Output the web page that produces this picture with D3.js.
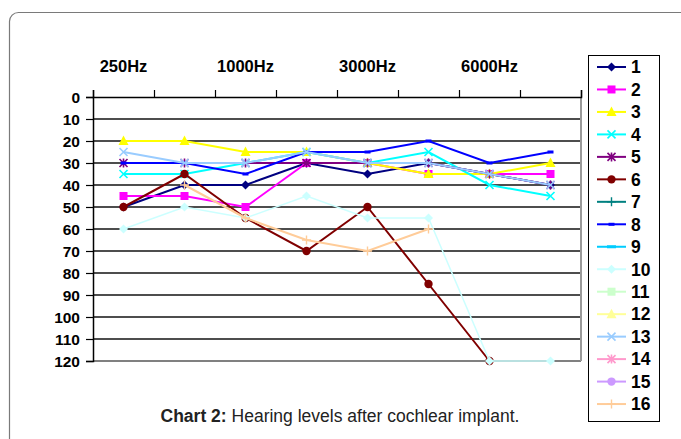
<!DOCTYPE html>
<html>
<head>
<meta charset="utf-8">
<script src="https://cdnjs.cloudflare.com/ajax/libs/d3/7.8.5/d3.min.js"></script>
<style>
  body { margin: 0; background: #fff; }
  svg { display: block; }
</style>
</head>
<body>
<div id="chart"></div>
<script>
// chart data
let freqs = ["250Hz", "500Hz", "1000Hz", "2000Hz", "3000Hz", "4000Hz", "6000Hz", "8000Hz"];
let shownFreqs = ["250Hz", "1000Hz", "3000Hz", "6000Hz"];
let yTicks = [0, 10, 20, 30, 40, 50, 60, 70, 80, 90, 100, 110, 120];
let names = ["1","2","3","4","5","6","7","8","9","10","11","12","13","14","15","16"];

let s1  = [50, 40, 40, 30, 35, 30, 35, 40];
let s2  = [45, 45, 50, 30, 30, 35, 35, 35];
let s3  = [20, 20, 25, 25, 30, 35, 35, 30];
let s4  = [35, 35, 30, 25, 30, 25, 40, 45];
let s5  = [30, 30, 30, 30, 30, 30, 35, 40];
let s6  = [50, 35, 55, 70, 50, 85, 120, null];
let s7  = [null, null, null, null, null, null, null, null];
let s8  = [30, 30, 35, 25, 25, 20, 30, 25];
let s9  = [null, null, null, null, null, null, null, null];
let s10 = [60, 50, 55, 45, 55, 55, 120, 120];
let s11 = [null, null, null, null, null, null, null, null];
let s12 = [null, null, null, null, null, null, null, null];
let s13 = [25, 30, 30, 25, 30, 30, 35, 40];
let s14 = [null, null, null, null, null, null, null, null];
let s15 = [null, null, null, null, null, null, null, null];
let s16 = [null, 40, 55, 65, 70, 60, null, null];

let allSeries = [s1, s2, s3, s4, s5, s6, s7, s8, s9, s10, s11, s12, s13, s14, s15, s16];

let colors = ["#000080","#FF00FF","#FFFF00","#00FFFF","#800080","#800000","#008080","#0000FF",
              "#00CCFF","#CCFFFF","#CCFFCC","#FFFF99","#99CCFF","#FF99CC","#CC99FF","#FFCC99"];
let markers = ["diamond","square","triangle","x","star","circle","plus","dash",
               "longdash","diamond","square","triangle","x","star","circle","plus"];

let width = 681, height = 439;
let plotLeft = 93, plotRight = 581, plotTop = 97, plotBottom = 361;

let svg = d3.select("#chart").append("svg")
  .attr("width", width)
  .attr("height", height);

// outer frame
svg.append("rect")
  .attr("x", 9.5).attr("y", 12.5)
  .attr("width", 700).attr("height", 460)
  .attr("rx", 9)
  .attr("fill", "none")
  .attr("stroke", "#7a7a7a")
  .attr("stroke-width", 1.2);

let x = d3.scaleBand().domain(freqs).range([plotLeft, plotRight]);
let xEdge = d3.scaleLinear().domain([0, freqs.length]).range([plotLeft, plotRight]);
let y = d3.scaleLinear().domain([0, 120]).range([plotTop, plotBottom]);
let cx = function(i) { return x(freqs[i]) + x.bandwidth() / 2; };

let axisFont = "'Liberation Sans', Arial, sans-serif";

// gridlines
svg.append("g")
  .selectAll("line")
  .data(yTicks.slice(1))
  .enter().append("line")
  .attr("x1", plotLeft).attr("x2", plotRight)
  .attr("y1", d => y(d)).attr("y2", d => y(d))
  .attr("stroke", d => d == 120 ? "#808080" : "#4d4d4d")
  .attr("stroke-width", 2);

// right edge of plot
svg.append("line")
  .attr("x1", plotRight).attr("x2", plotRight)
  .attr("y1", plotTop).attr("y2", plotBottom)
  .attr("stroke", "#9a9a9a").attr("stroke-width", 2);

// y axis (left)
let yAxis = svg.append("g")
  .attr("transform", `translate(${plotLeft},0)`)
  .call(d3.axisLeft(y).tickValues(yTicks).tickSize(7).tickPadding(6));
yAxis.select(".domain").attr("stroke", "#000").attr("stroke-width", 1.5);
yAxis.selectAll(".tick line").attr("stroke", "#000").attr("stroke-width", 1.2);
yAxis.selectAll("text")
  .attr("font-family", axisFont)
  .attr("font-weight", "bold")
  .attr("font-size", 15.5)
  .attr("fill", "#000")
  .attr("dy", "0.35em");

// x axis (top) - ticks at category boundaries
let xAxis = svg.append("g")
  .attr("transform", `translate(0,${plotTop})`)
  .call(d3.axisTop(xEdge).tickValues(d3.range(freqs.length + 1)).tickSize(7).tickFormat(""));
xAxis.select(".domain").attr("stroke", "#000").attr("stroke-width", 1.5);
xAxis.selectAll(".tick line").attr("stroke", "#000").attr("stroke-width", 1.2);

// x labels, every other category
svg.append("g")
  .selectAll("text")
  .data(shownFreqs)
  .enter().append("text")
  .attr("x", d => x(d) + x.bandwidth() / 2)
  .attr("y", 72)
  .attr("text-anchor", "middle")
  .attr("font-family", axisFont)
  .attr("font-weight", "bold")
  .attr("font-size", 16.5)
  .text(d => d);

function drawMarker(g, type, color, px, py) {
  if (type == "diamond") {
    g.append("path").attr("d", `M${px},${py-4.5}L${px+4.5},${py}L${px},${py+4.5}L${px-4.5},${py}Z`)
      .attr("fill", color);
  } else if (type == "square") {
    g.append("rect").attr("x", px-4).attr("y", py-4).attr("width", 8).attr("height", 8)
      .attr("fill", color);
  } else if (type == "triangle") {
    g.append("path").attr("d", `M${px},${py-5.5}L${px+5},${py+4}L${px-5},${py+4}Z`)
      .attr("fill", color);
  } else if (type == "x") {
    g.append("path").attr("d", `M${px-4},${py-4}L${px+4},${py+4}M${px-4},${py+4}L${px+4},${py-4}`)
      .attr("stroke", color).attr("stroke-width", 1.6);
  } else if (type == "star") {
    g.append("path").attr("d", `M${px-4},${py-4}L${px+4},${py+4}M${px-4},${py+4}L${px+4},${py-4}M${px},${py-4.5}L${px},${py+4.5}`)
      .attr("stroke", color).attr("stroke-width", 1.6);
  } else if (type == "circle") {
    g.append("circle").attr("cx", px).attr("cy", py).attr("r", 4.2).attr("fill", color);
  } else if (type == "plus") {
    g.append("path").attr("d", `M${px-4.5},${py}L${px+4.5},${py}M${px},${py-4.5}L${px},${py+4.5}`)
      .attr("stroke", color).attr("stroke-width", 1.4);
  } else if (type == "dash") {
    g.append("rect").attr("x", px-3).attr("y", py-1.5).attr("width", 6).attr("height", 3)
      .attr("fill", color);
  } else if (type == "longdash") {
    g.append("rect").attr("x", px-4.5).attr("y", py-1.5).attr("width", 9).attr("height", 3)
      .attr("fill", color);
  }
}

let line = d3.line()
  .defined(d => d != null)
  .x((d, i) => cx(i))
  .y(d => y(d));

// series
allSeries.forEach(function(vals, k) {
  let g = svg.append("g").attr("class", "series");
  g.append("path")
    .datum(vals)
    .attr("d", line)
    .attr("fill", "none")
    .attr("stroke", colors[k])
    .attr("stroke-width", k == 9 ? 1.5 : 2);
  vals.forEach(function(v, i) {
    if (v != null) drawMarker(g, markers[k], colors[k], cx(i), y(v));
  });
});

// legend
let legendTop = 67, legendStep = 22.47;
svg.append("rect")
  .attr("x", 588.5).attr("y", 55.5)
  .attr("width", 71).attr("height", 366)
  .attr("fill", "#fff")
  .attr("stroke", "#000")
  .attr("stroke-width", 1);

let legend = svg.append("g");
names.forEach(function(n, k) {
  let ly = legendTop + k * legendStep;
  legend.append("line")
    .attr("x1", 597).attr("x2", 626)
    .attr("y1", ly).attr("y2", ly)
    .attr("stroke", colors[k]).attr("stroke-width", 2);
  drawMarker(legend, markers[k], colors[k], 611.5, ly);
  legend.append("text")
    .attr("x", 631).attr("y", ly)
    .attr("dy", "0.36em")
    .attr("font-family", axisFont)
    .attr("font-weight", "bold")
    .attr("font-size", 17.5)
    .text(n);
});

// caption
let caption = svg.append("text")
  .attr("x", 340).attr("y", 422)
  .attr("text-anchor", "middle")
  .attr("font-family", "'Liberation Sans', Arial, sans-serif")
  .attr("font-size", 17.5)
  .attr("fill", "#222");
caption.append("tspan").attr("font-weight", "bold").text("Chart 2:");
caption.append("tspan").text(" Hearing levels after cochlear implant.");
</script>
</body>
</html>
